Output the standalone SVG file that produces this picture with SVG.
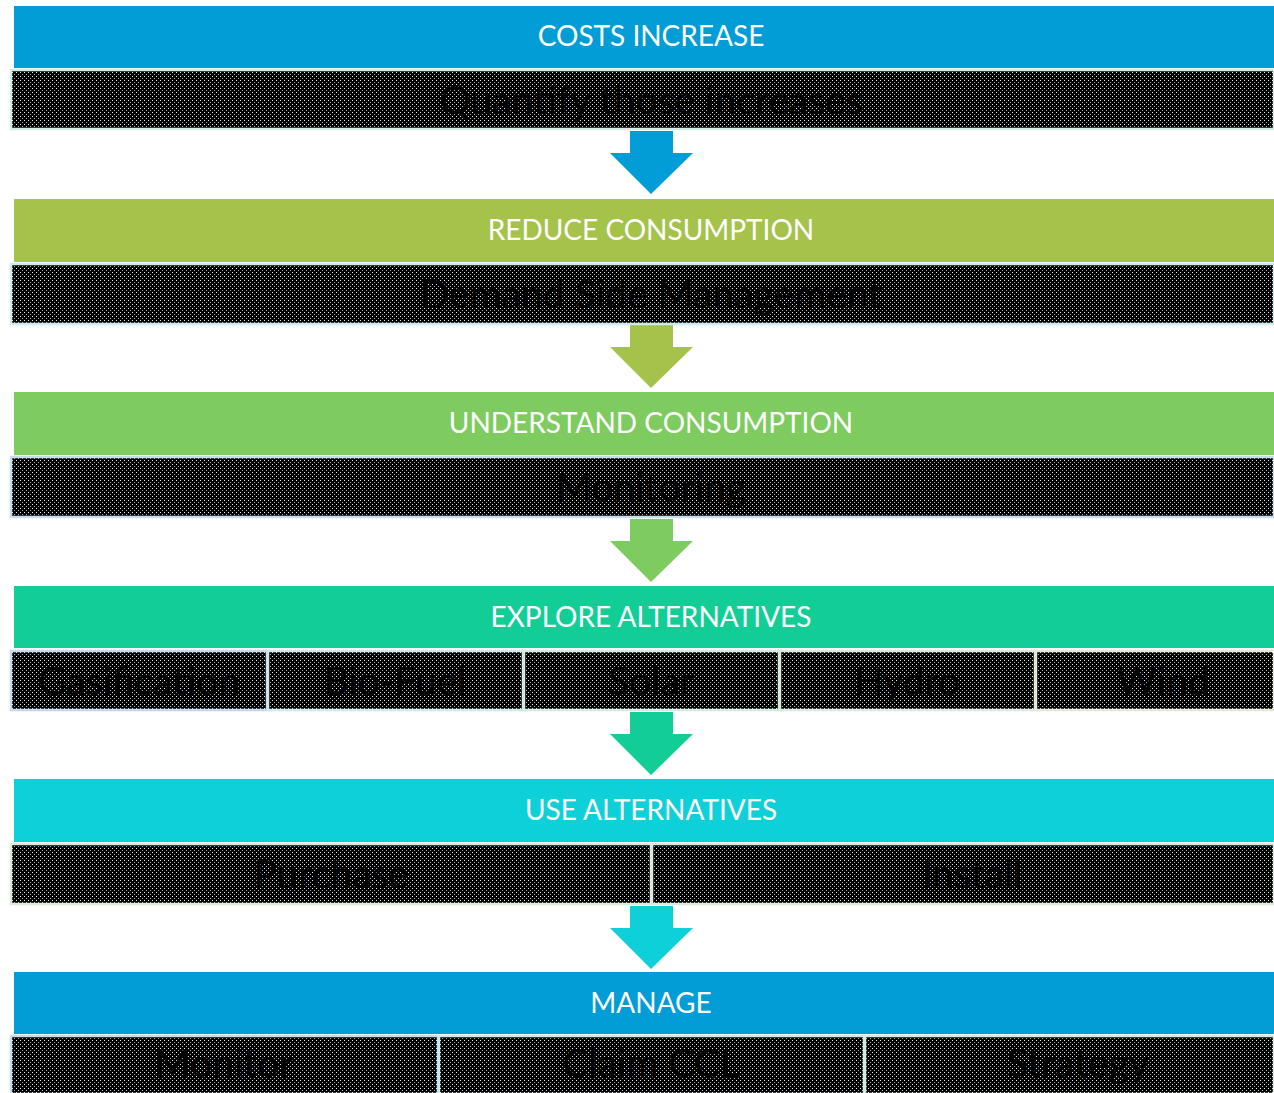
<svg xmlns="http://www.w3.org/2000/svg" width="1274" height="1093" viewBox="0 0 1274 1093">
<defs>
<pattern id="dots" width="4" height="4" patternUnits="userSpaceOnUse">
<rect width="4" height="4" fill="#000"/>
<rect x="0" y="0" width="1" height="1" fill="#f0f0f0"/>
<rect x="2" y="2" width="1" height="1" fill="#b0b0b0"/>
</pattern>
<path id="arrow" d="M20 0 H63 V22 H83 L41 63 L0 22 H20 Z"/>
</defs>
<style>
.hdr-t{font-family:"Lato","Open Sans",sans-serif;font-size:28px;fill:#fff;text-anchor:middle;dominant-baseline:central}
.det{fill:url(#dots);stroke-width:2.5}
.det-t{font-family:"Lato","Open Sans",sans-serif;font-size:39px;fill:#000;text-anchor:middle;dominant-baseline:central}
</style>
<rect width="1274" height="1093" fill="#fff"/>

<g id="connectors">
<use href="#arrow" x="610" y="131" fill="#029cd7"/>
<use href="#arrow" x="610" y="325" fill="#a5c24a"/>
<use href="#arrow" x="610" y="519" fill="#7ecb60"/>
<use href="#arrow" x="610" y="712" fill="#12ce96"/>
<use href="#arrow" x="610" y="906" fill="#0ed0d9"/>
</g>

<g id="costs-increase">
<rect x="14" y="6" width="1260" height="62" fill="#029cd7"/>
<text class="hdr-t" x="651" y="35">COSTS INCREASE</text>
</g>
<g id="quantify">
<rect class="det" x="11" y="70" width="1263" height="59" stroke="#d2ede4"/>
<text class="det-t" x="651" y="99">Quantify those increases</text>
</g>

<g id="reduce-consumption">
<rect x="14" y="199" width="1260" height="63" fill="#a5c24a"/>
<text class="hdr-t" x="651" y="229">REDUCE CONSUMPTION</text>
</g>
<g id="dsm">
<rect class="det" x="11" y="264" width="1263" height="60" stroke="#cdebee"/>
<text class="det-t" x="651" y="293">Demand Side Management</text>
</g>

<g id="understand-consumption">
<rect x="14" y="392" width="1260" height="63" fill="#7ecb60"/>
<text class="hdr-t" x="651" y="422">UNDERSTAND CONSUMPTION</text>
</g>
<g id="monitoring">
<rect class="det" x="11" y="457" width="1263" height="60" stroke="#c8dcef"/>
<text class="det-t" x="651" y="486">Monitoring</text>
</g>

<g id="explore-alternatives">
<rect x="14" y="586" width="1260" height="62" fill="#12ce96"/>
<text class="hdr-t" x="651" y="616">EXPLORE ALTERNATIVES</text>
</g>
<g id="gasification">
<rect class="det" x="11" y="651" width="256" height="59" stroke="#c8d8ef"/>
<text class="det-t" x="139" y="680">Gasification</text>
</g>
<g id="bio-fuel">
<rect class="det" x="268" y="651" width="255" height="59" stroke="#cdebee"/>
<text class="det-t" x="395" y="680">Bio-Fuel</text>
</g>
<g id="solar">
<rect class="det" x="524" y="651" width="255" height="59" stroke="#d2ece0"/>
<text class="det-t" x="651" y="680">Solar</text>
</g>
<g id="hydro">
<rect class="det" x="780" y="651" width="255" height="59" stroke="#dceadb"/>
<text class="det-t" x="907" y="680">Hydro</text>
</g>
<g id="wind">
<rect class="det" x="1036" y="651" width="238" height="59" stroke="#e4ead6"/>
<text class="det-t" x="1163" y="680">Wind</text>
</g>

<g id="use-alternatives">
<rect x="14" y="779" width="1260" height="63" fill="#0ed0d9"/>
<text class="hdr-t" x="651" y="809">USE ALTERNATIVES</text>
</g>
<g id="purchase">
<rect class="det" x="11" y="844" width="640" height="60" stroke="#dceadb"/>
<text class="det-t" x="331" y="873">Purchase</text>
</g>
<g id="install">
<rect class="det" x="652" y="844" width="622" height="60" stroke="#dceadb"/>
<text class="det-t" x="972" y="873">Install</text>
</g>

<g id="manage">
<rect x="14" y="972" width="1260" height="62" fill="#029cd7"/>
<text class="hdr-t" x="651" y="1002">MANAGE</text>
</g>
<g id="monitor">
<rect class="det" x="11" y="1036" width="427" height="58" stroke="#c8dcef"/>
<text class="det-t" x="224" y="1062">Monitor</text>
</g>
<g id="claim-ccl">
<rect class="det" x="439" y="1036" width="425" height="58" stroke="#cdebee"/>
<text class="det-t" x="651" y="1062">Claim CCL</text>
</g>
<g id="strategy">
<rect class="det" x="865" y="1036" width="409" height="58" stroke="#d2ece0"/>
<text class="det-t" x="1078" y="1062">Strategy</text>
</g>
</svg>
